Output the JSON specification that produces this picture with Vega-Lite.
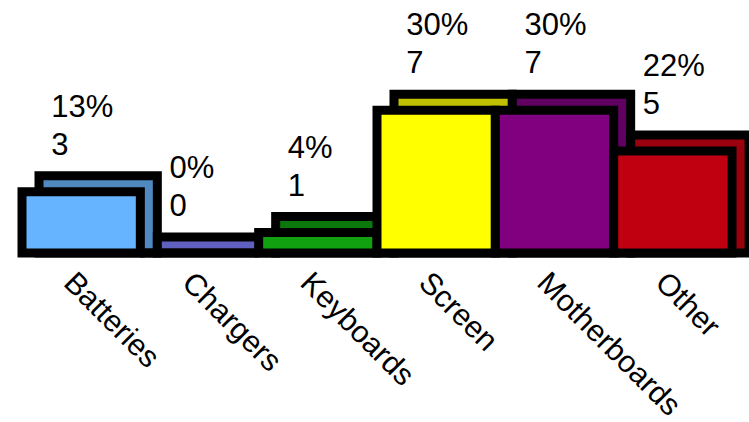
{
  "$schema": "https://vega.github.io/schema/vega-lite/v6.json",
  "autosize": {"type": "none"},
  "width": 710,
  "height": 204,
  "padding": {"left": 22, "top": 49, "right": 17, "bottom": 169},
  "background": "white",
  "config": {"view": {"stroke": null}},
  "data": {
    "values": [
      {"part": "Batteries", "count": 3, "pct": "13%", "front": "#66b3ff", "top": "#5088c0"},
      {"part": "Chargers", "count": 0, "pct": "0%", "front": "#6666cc", "top": "#6060c0"},
      {"part": "Keyboards", "count": 1, "pct": "4%", "front": "#10a010", "top": "#0a780a"},
      {"part": "Screen", "count": 7, "pct": "30%", "front": "#ffff00", "top": "#c0c000"},
      {"part": "Motherboards", "count": 7, "pct": "30%", "front": "#800080", "top": "#600060"},
      {"part": "Other", "count": 5, "pct": "22%", "front": "#c00010", "top": "#9a000d"}
    ]
  },
  "encoding": {
    "x": {
      "field": "part",
      "type": "nominal",
      "sort": null,
      "scale": {"paddingInner": 0, "paddingOuter": 0},
      "axis": {
        "title": null,
        "domain": false,
        "ticks": false,
        "labelAngle": 45,
        "labelAlign": "left",
        "labelBaseline": "top",
        "labelFont": "Liberation Sans",
        "labelFontSize": 30.5,
        "labelColor": "black",
        "labelPadding": 14,
        "labelOffset": -2,
        "labelLimit": 0
      }
    },
    "y": {
      "field": "count",
      "type": "quantitative",
      "scale": {"domain": [0, 10]},
      "axis": null
    }
  },
  "layer": [
    {
      "mark": {"type": "rect", "stroke": "black", "strokeWidth": 9, "xOffset": 17, "x2Offset": 17, "yOffset": -16, "y2Offset": 0, "strokeJoin": "miter"},
      "encoding": {
        "y2": {"datum": 0},
        "fill": {"field": "top", "type": "nominal", "scale": null}
      }
    },
    {
      "mark": {"type": "bar", "stroke": "black", "strokeWidth": 9, "strokeJoin": "miter"},
      "encoding": {"fill": {"field": "front", "type": "nominal", "scale": null}}
    },
    {
      "mark": {"type": "text", "align": "left", "baseline": "alphabetic", "dx": -30, "dy": -37, "font": "Liberation Sans", "fontSize": 31, "color": "black"},
      "encoding": {"text": {"field": "count", "type": "quantitative"}}
    },
    {
      "mark": {"type": "text", "align": "left", "baseline": "alphabetic", "dx": -30, "dy": -75, "font": "Liberation Sans", "fontSize": 31, "color": "black"},
      "encoding": {"text": {"field": "pct", "type": "nominal"}}
    }
  ]
}
